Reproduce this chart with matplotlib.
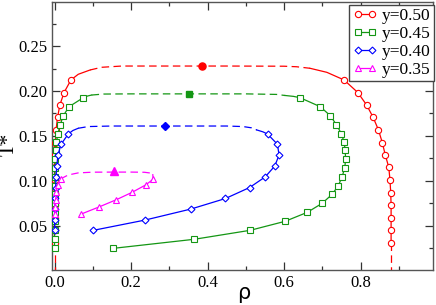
import matplotlib
matplotlib.use("Agg")
import matplotlib.pyplot as plt
from matplotlib.ticker import MultipleLocator

plt.rcParams['font.family'] = ['Liberation Serif', 'DejaVu Serif']

# ---------------- data ----------------
labels = ["y=0.50", "y=0.45", "y=0.40", "y=0.35"]

# y = 0.50 (red, circles)
T_r = [0.2123, 0.1983, 0.1844, 0.1707, 0.1566, 0.1425, 0.1284, 0.1150, 0.1010, 0.0868, 0.0727, 0.0588, 0.0447, 0.0304]
rv_r = [0.043, 0.025, 0.014, 0.008, 0.004, 0.002, 0.001, 0.0005, 0.0003, 0.0002, 0.0001, 0.0, 0.0, 0.0]
rl_r = [0.757, 0.793, 0.816, 0.833, 0.847, 0.857, 0.865, 0.874, 0.877, 0.879, 0.880, 0.880, 0.880, 0.880]
top_r_rho = [0.093, 0.123, 0.176, 0.30, 0.45, 0.60, 0.633, 0.668]
top_r_T = [0.2234, 0.2264, 0.2278, 0.2278, 0.2278, 0.2276, 0.2270, 0.2253]
extL_r_rho = [0.043, 0.062, 0.093]
extL_r_T = [0.2123, 0.2186, 0.2234]
extR_r_rho = [0.668, 0.712, 0.757]
extR_r_T = [0.2253, 0.2208, 0.2123]
crit_r = (0.385, 0.2278)

# y = 0.45 (green, squares)
T_g = [0.1925, 0.1825, 0.1725, 0.1625, 0.1525, 0.1432, 0.1343, 0.1243, 0.1146, 0.1046, 0.0946, 0.0850, 0.0750, 0.0649, 0.0549, 0.0449, 0.0349, 0.0248]
rv_g = [0.075, 0.038, 0.023, 0.015, 0.009, 0.005, 0.003, 0.002, 0.0015, 0.001, 0.0007, 0.0005, 0.0003, 0.0002, 0.0001, 0.0, 0.0, 0.0]
rl_g = [0.642, 0.695, 0.721, 0.737, 0.750, 0.757, 0.760, 0.761, 0.759, 0.752, 0.742, 0.726, 0.700, 0.661, 0.603, 0.512, 0.366, 0.154]
top_g_rho = [0.097, 0.128, 0.20, 0.35, 0.50, 0.58, 0.603]
top_g_T = [0.1955, 0.1966, 0.1968, 0.1968, 0.1968, 0.1962, 0.1950]
extL_g_rho = [0.075, 0.087, 0.097]
extL_g_T = [0.1925, 0.1945, 0.1955]
extR_g_rho = [0.603, 0.625, 0.642]
extR_g_T = [0.1950, 0.1940, 0.1925]
crit_g = (0.351, 0.1967)

# y = 0.40 (blue, diamonds)
T_b = [0.1521, 0.1406, 0.1287, 0.1165, 0.1044, 0.0925, 0.0803, 0.0686, 0.0563, 0.0448]
rv_b = [0.036, 0.017, 0.009, 0.006, 0.004, 0.003, 0.002, 0.001, 0.0005, 0.0002]
rl_b = [0.557, 0.583, 0.587, 0.576, 0.551, 0.510, 0.447, 0.357, 0.237, 0.101]
top_b_rho = [0.062, 0.088, 0.15, 0.30, 0.45, 0.493, 0.515, 0.529]
top_b_T = [0.1585, 0.1604, 0.1610, 0.1610, 0.1610, 0.1604, 0.1590, 0.1566]
extL_b_rho = [0.036, 0.048, 0.062]
extL_b_T = [0.1521, 0.1560, 0.1585]
extR_b_rho = [0.529, 0.545, 0.557]
extR_b_T = [0.1566, 0.1545, 0.1521]
crit_b = (0.289, 0.1610)

# y = 0.35 (magenta, triangles)
T_m = [0.1017, 0.0953, 0.0872, 0.0790, 0.0708, 0.0630]
rv_m = [0.016, 0.008, 0.005, 0.003, 0.002, 0.001]
rl_m = [0.258, 0.238, 0.203, 0.162, 0.116, 0.070]
top_m_rho = [0.016, 0.019, 0.036, 0.062, 0.10, 0.156, 0.20, 0.235, 0.250, 0.257]
top_m_T = [0.1017, 0.1028, 0.1065, 0.1088, 0.1096, 0.1097, 0.1097, 0.1095, 0.1087, 0.1068]
extR_m_rho = [0.257, 0.258]
extR_m_T = [0.1068, 0.1017]
crit_m = (0.156, 0.1105)

# ---------------- figure ----------------
fig = plt.figure(figsize=(4.36, 3.05), dpi=100)
W, H = 436, 305
x0, x1, y0, y1 = 52, 433, 2, 269.5
ax = fig.add_axes([x0 / W, 1 - y1 / H, (x1 - x0) / W, (y1 - y0) / H])

dash = (0, (6, 3.5))
lw = 0.9
mew = 0.8

series = [
    ("#ff0000", "o", 4.5, T_r, rv_r, rl_r, top_r_rho, top_r_T, extL_r_rho, extL_r_T, extR_r_rho, extR_r_T, crit_r),
    ("#149614", "s", 4.0, T_g, rv_g, rl_g, top_g_rho, top_g_T, extL_g_rho, extL_g_T, extR_g_rho, extR_g_T, crit_g),
    ("#0000ff", "D", 3.5, T_b, rv_b, rl_b, top_b_rho, top_b_T, extL_b_rho, extL_b_T, extR_b_rho, extR_b_T, crit_b),
    ("#ff00ff", "^", 4.8, T_m, rv_m, rl_m, top_m_rho, top_m_T, None, None, extR_m_rho, extR_m_T, crit_m),
]

handles = []
for i, (c, m, ms, T, rv, rl, tr, tt, elr, elt, err, ert, crit) in enumerate(series):
    ax.plot(tr, tt, color=c, lw=lw, ls=dash, zorder=2)
    if elr is not None:
        ax.plot(elr, elt, color=c, lw=lw, zorder=2)
    ax.plot(err, ert, color=c, lw=lw, zorder=2)
    ax.plot(rv, T, color=c, lw=lw, marker=m, ms=ms, mfc="white", mec=c, mew=mew, zorder=3)
    h, = ax.plot(rl, T, color=c, lw=lw, marker=m, ms=ms, mfc="white", mec=c, mew=mew, zorder=3,
                 label=labels[i])
    handles.append(h)
    ax.plot([crit[0]], [crit[1]], marker=m, ms=ms + 0.6, color=c, mec=c, zorder=4, ls="none")

# red dashed continuation to T=0
ax.plot([rv_r[-1], rv_r[-1]], [T_r[-1], 0.0], color="#ff0000", lw=lw, ls=dash, zorder=2)
ax.plot([rl_r[-1], rl_r[-1]], [T_r[-1], 0.0], color="#ff0000", lw=lw, ls=dash, zorder=2)

ax.set_xlim((x0 - 54.5) / 382.5, (x1 - 54.5) / 382.5)
ax.set_ylim((270.6 - y1) / 898, (270.6 - y0) / 898)

ax.xaxis.set_major_locator(MultipleLocator(0.2))
ax.xaxis.set_minor_locator(MultipleLocator(0.1))
ax.yaxis.set_major_locator(MultipleLocator(0.05))
ax.yaxis.set_minor_locator(MultipleLocator(0.025))
ax.tick_params(which="both", direction="in", top=True, right=True, colors="#333333",
               labelcolor="black", labelsize=12)
ax.tick_params(which="major", length=5.5, width=0.9)
ax.tick_params(which="minor", length=3, width=0.9)
ax.xaxis.set_major_formatter(matplotlib.ticker.FormatStrFormatter("%.1f"))
ax.yaxis.set_major_formatter(matplotlib.ticker.FormatStrFormatter("%.2f"))
ax.tick_params(axis="x", pad=4)
ax.tick_params(axis="y", pad=3)
for s in ax.spines.values():
    s.set_color("#555555")
    s.set_linewidth(1.0)

fig.text(244 / W, 1 - 293 / H, "ρ", ha="center", va="center", fontsize=15,
         family=["DejaVu Sans"])
fig.text(9 / W, 1 - 144 / H, "T*", ha="center", va="center", fontsize=15, rotation=90)

leg = ax.legend(handles=handles, loc="upper right", bbox_to_anchor=(1.003, 0.99),
                fontsize=12.5, numpoints=2, handlelength=1.4, handletextpad=0.3,
                labelspacing=0.1, borderpad=0.2, borderaxespad=0.0, fancybox=False,
                framealpha=1.0)
leg.get_frame().set_edgecolor("#444444")
leg.get_frame().set_linewidth(1.0)

fig.savefig("out.png", dpi=100)
